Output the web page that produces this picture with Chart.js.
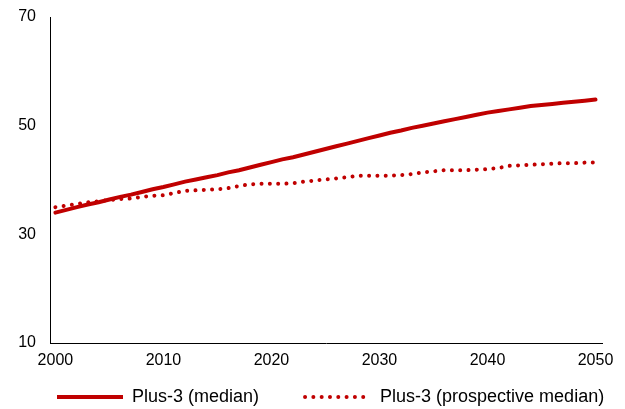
<!DOCTYPE html>
<html>
<head>
<meta charset="utf-8">
<script src="https://cdn.jsdelivr.net/npm/chart.js@4/dist/chart.umd.min.js"></script>
<style>
html,body{margin:0;padding:0;background:#fff;}
#wrap{width:625px;height:409px;position:relative;}
</style>
</head>
<body>
<div id="wrap"><canvas id="c" width="625" height="409"></canvas></div>
<script>
const years = [];
for (let y = 2000; y <= 2050; y++) years.push(y);

const xTickLabels = [2000, 2010, 2020, 2030, 2040, 2050];
const yTickLabels = [10, 30, 50, 70];

const medianValues = [
  34.0, 34.5, 35.0, 35.5, 35.9, 36.4, 36.9, 37.3, 37.8, 38.3,
  38.7, 39.2, 39.7, 40.1, 40.5, 40.9, 41.4, 41.8, 42.3, 42.8,
  43.3, 43.8, 44.2, 44.7, 45.2, 45.7, 46.2, 46.7, 47.2, 47.7,
  48.2, 48.7, 49.1, 49.6, 50.0, 50.4, 50.8, 51.2, 51.6, 52.0,
  52.4, 52.7, 53.0, 53.3, 53.6, 53.8, 54.0, 54.2, 54.4, 54.6,
  54.8
];

const prospectiveValues = [
  35.0, 35.3, 35.6, 35.9, 36.1, 36.3, 36.5, 36.6, 36.9, 37.1,
  37.2, 37.6, 38.0, 38.1, 38.2, 38.3, 38.5, 38.9, 39.2, 39.3,
  39.3, 39.3, 39.4, 39.7, 39.9, 40.1, 40.3, 40.5, 40.8, 40.8,
  40.8, 40.8, 40.9, 41.1, 41.4, 41.6, 41.8, 41.8, 41.8, 41.9,
  42.0, 42.2, 42.6, 42.7, 42.8, 42.9, 43.0, 43.1, 43.1, 43.2,
  43.2
];

const seriesNames = ['Plus-3 (median)', 'Plus-3 (prospective median)'];
const red = '#C00000';
const LEGEND_PAD = 46;
const LEGEND_FONT = 18;
const LEGEND_CENTER_Y = 397;

const toPoints = vals => years.map((y, i) => ({x: y, y: vals[i]}));

Chart.defaults.font.family = '"Liberation Sans", Arial, sans-serif';
Chart.defaults.font.size = 16;
Chart.defaults.color = '#000';

const legendPatch = {
  id: 'legendPatch',
  beforeLayout(chart) {
    const lg = chart.legend;
    if (lg && !lg.__patched) {
      const origFit = lg.fit;
      lg.fit = function () {
        const mw = this.maxWidth;
        this.maxWidth = 10000;
        origFit.call(this);
        this.maxWidth = mw;
        this.width = mw;
        this.height = 40;
      };
      lg.__patched = true;
    }
  },
  afterLayout(chart) {
    const lg = chart.legend;
    if (!lg) return;
    lg.top = LEGEND_CENTER_Y - LEGEND_PAD - LEGEND_FONT / 2;
    lg.bottom = chart.height;
    lg.right = lg.left + 2000;
    lg.width = 2000;
  }
};

const noVPad = s => { s.paddingTop = 0; s.paddingBottom = 0; };

new Chart(document.getElementById('c'), {
  type: 'line',
  data: {
    datasets: [
      {
        label: seriesNames[0],
        data: toPoints(medianValues),
        borderColor: red,
        backgroundColor: red,
        borderWidth: 4,
        pointRadius: 0,
        tension: 0,
        borderCapStyle: 'round'
      },
      {
        label: seriesNames[1],
        data: toPoints(prospectiveValues),
        borderColor: red,
        backgroundColor: red,
        borderWidth: 4,
        borderDash: [0.01, 8.3],
        borderCapStyle: 'round',
        pointRadius: 0,
        tension: 0
      }
    ]
  },
  plugins: [legendPatch],
  options: {
    responsive: false,
    animation: false,
    layout: {padding: {left: 11, right: 0, top: 17, bottom: 0}},
    plugins: {
      tooltip: {enabled: false},
      legend: {
        position: 'bottom',
        align: 'start',
        labels: {
          usePointStyle: true,
          pointStyle: 'line',
          pointStyleWidth: 66,
          boxHeight: 4,
          padding: LEGEND_PAD,
          color: '#000',
          font: {size: LEGEND_FONT},
          generateLabels: chart => {
            const items = Chart.defaults.plugins.legend.labels.generateLabels(chart);
            items.forEach((it, i) => {
              const ds = chart.data.datasets[i];
              it.lineDash = ds.borderDash || [];
              it.lineCap = ds.borderDash ? 'round' : 'butt';
              it.lineWidth = 4;
              it.strokeStyle = red;
              it.fillStyle = red;
            });
            return items;
          }
        }
      }
    },
    scales: {
      x: {
        type: 'linear',
        min: 1999.5,
        max: 2050.6,
        afterBuildTicks: s => { s.ticks = xTickLabels.map(v => ({value: v})); },
        afterFit: s => { s.height = 26; },
        grid: {display: false, drawTicks: false},
        border: {display: true, color: '#000', width: 1},
        ticks: {padding: 8, maxRotation: 0, autoSkip: false, callback: v => String(v)}
      },
      y: {
        min: 10,
        max: 70,
        afterBuildTicks: s => { s.ticks = yTickLabels.map(v => ({value: v})); },
        afterFit: s => { s.width = 39; noVPad(s); },
        grid: {display: false, drawTicks: false},
        border: {display: true, color: '#000', width: 1},
        ticks: {padding: 14}
      },
      yRight: {
        position: 'right',
        display: true,
        afterFit: s => { s.width = 23; noVPad(s); },
        grid: {display: false, drawTicks: false},
        border: {display: false},
        ticks: {display: false}
      }
    }
  }
});
</script>
</body>
</html>
